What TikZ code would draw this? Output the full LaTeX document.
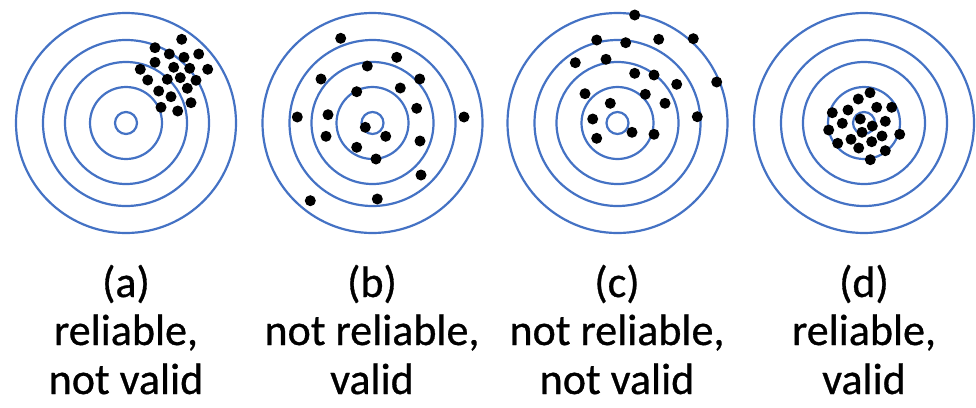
\documentclass[tikz,border=0pt]{standalone}
\usepackage{fontspec}
\setmainfont{Carlito}
\newfontfamily\lblfont{Carlito}[FakeBold=0.7]
\definecolor{ringblue}{HTML}{4472C4}
\begin{document}
\begin{tikzpicture}[x=1pt,y=-1pt,
  ring/.style={draw=ringblue,line width=2.2pt},
  dot/.style={fill=black},
  lbl/.style={anchor=base,inner sep=0pt,font=\lblfont\fontsize{44}{48}\selectfont}]
\useasboundingbox (0,0) rectangle (976,407);
% targets
\foreach \cx/\nm in {126/a,372.5/b,617.5/c,864/d}{
  \coordinate (t\nm) at (\cx,123);
  \foreach \r in {110,83,61,36,11}{
    \draw[ring] (t\nm) circle[radius=\r];
  }
}
% dots (a)
\foreach \x/\y in {181.7/39.3,155/47.7,169.3/54,184/57.3,198.7/54,155/62.3,173.7/67.3,189.7/68.3,207.7/69.3,140.3/69.3,147.7/80,167.3/79.3,180.3/77.7,196/80.3,158.7/91,187.3/88.3,171/96.7,191/102.7,161/107.3,177.7/111}
  \fill[dot] (\x,\y) circle[radius=5.5];
% dots (b)
\foreach \x/\y in {340.7/38.3,396.7/57.3,367.3/66,321/79,419.7/79,356.7/91.7,400.3/88,416.7/108.3,297.3/117,328/114.7,464/117,365.3/127.3,326/136.3,385.7/136.3,420/141,356.7/147.3,376/159,421/175,310.3/200.7,377.3/199}
  \fill[dot] (\x,\y) circle[radius=5.5];
% dots (c)
\foreach \x/\y in {634.7/15,596.7/40,625.7/42.7,658.7/39.3,693.3/38.7,575.3/62.7,606/59.3,634.7/73.3,654/75,676.7/84.3,716.7/82,585/93.7,645.3/94.3,610.3/103.3,665/103.3,592.7/119,697.3/116.7,632/132.3,654/134.3,596.7/138.3}
  \fill[dot] (\x,\y) circle[radius=5.5];
% dots (d)
\foreach \x/\y in {870/92.7,858.3/99,876.7/107.3,891.7/107.3,848/110,832.3/112.7,860.3/119,885.3/121.3,842.3/123.3,872.3/126,828.7/130,862/132.3,899.7/134.3,882/136,851/139.3,871.7/141.7,837.7/143.3,858.7/148,885.3/150.7,870.3/159.7}
  \fill[dot] (\x,\y) circle[radius=5.5];
% labels
\node[lbl] (la1) at (126,297) {(a)};
\node[lbl] (la2) at (126,345) {reliable,};
\node[lbl] (la3) at (126,394) {not valid};
\node[lbl] (lb1) at (372,297) {(b)};
\node[lbl] (lb2) at (372,345) {not reliable,};
\node[lbl] (lb3) at (372,394) {valid};
\node[lbl] (lc1) at (617,297) {(c)};
\node[lbl] (lc2) at (617,345) {not reliable,};
\node[lbl] (lc3) at (617,394) {not valid};
\node[lbl] (ld1) at (864,297) {(d)};
\node[lbl] (ld2) at (864,345) {reliable,};
\node[lbl] (ld3) at (864,394) {valid};
\end{tikzpicture}
\end{document}
